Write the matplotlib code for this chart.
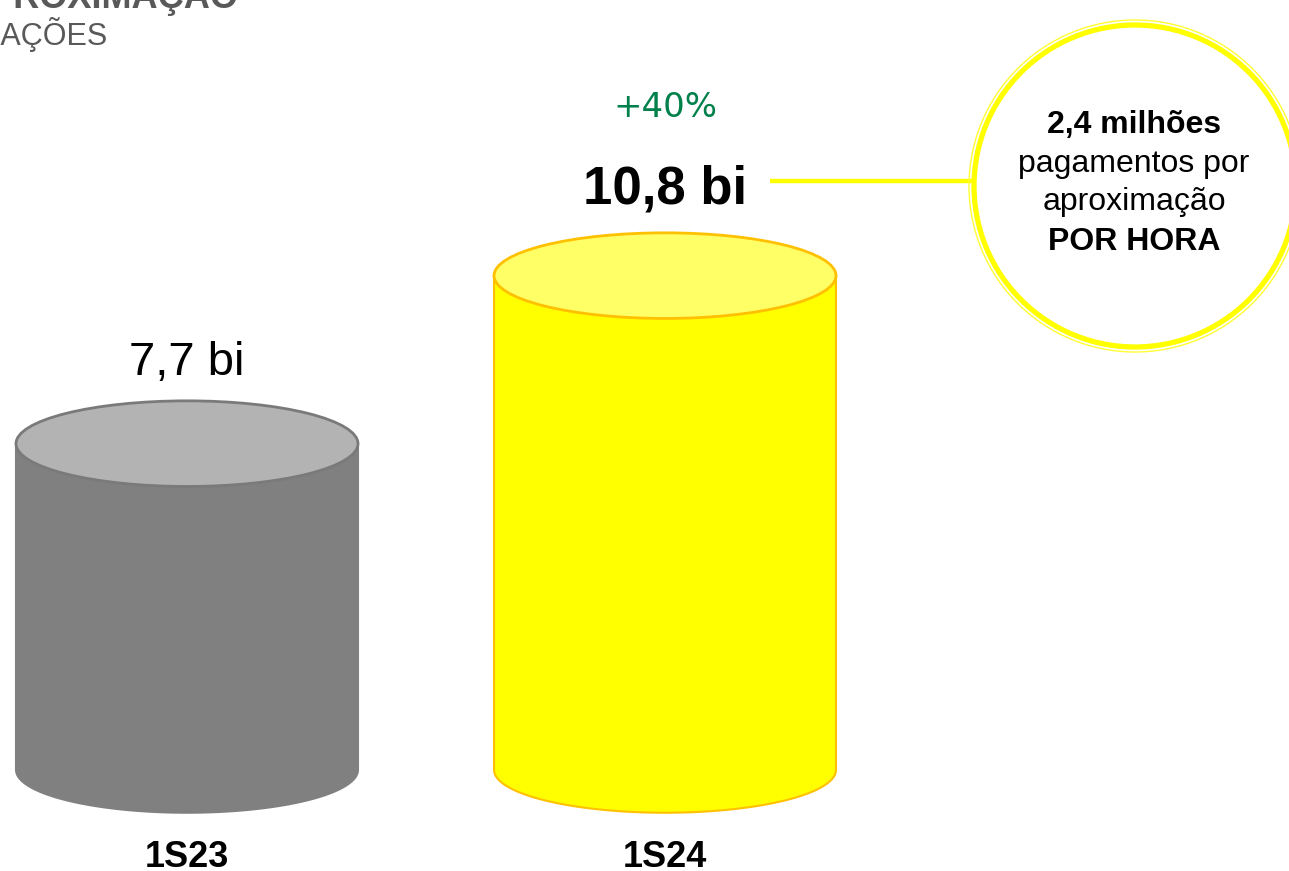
import matplotlib
matplotlib.use("Agg")
import matplotlib.pyplot as plt
from matplotlib.patches import Ellipse, Polygon, Circle
import numpy as np

# data
periods = ["1S23", "1S24"]
values = [7.7, 10.8]
value_labels = ["7,7 bi", "10,8 bi"]
growth_label = "+40%"
callout_lines = ["2,4 milhões", "pagamentos por", "aproximação", "POR HORA"]

# style
body_colors = ["#808080", "#ffff00"]
top_colors = ["#b3b3b3", "#ffff66"]
edge_colors = ["#7a7a7a", "#ffc000"]
x_centers = [187, 665]
half_w = 171
base = 1.68
ry = 0.79          # vertical semi axis of ellipses, in value units

plt.rcParams['font.family'] = ['Liberation Sans', 'DejaVu Sans']

fig = plt.figure(figsize=(12.89, 8.71), dpi=100)
ax = fig.add_axes([0, 0, 1, 1])
ax.set_xlim(0, 1289)
ax.set_ylim(-0.185, 15.886)
ax.axis('off')

t = np.linspace(np.pi, 2 * np.pi, 60)
for i, v in enumerate(values):
    xc = x_centers[i]
    # body: left side, bottom half ellipse, right side
    xs = [xc - half_w] + list(xc + half_w * np.cos(t)) + [xc + half_w]
    ys = [v] + list(base + ry * np.sin(t)) + [v]
    body_edge = body_colors[i] if i == 0 else edge_colors[i]
    ax.add_patch(Polygon(np.column_stack([xs, ys]), closed=True,
                         facecolor=body_colors[i], edgecolor=body_edge, lw=1.5, zorder=2))
    ax.add_patch(Ellipse((xc, v), 2 * half_w, 2 * ry, facecolor=top_colors[i],
                         edgecolor=edge_colors[i], lw=2, zorder=3))

# overlay in pixel coords for annotations
ov = fig.add_axes([0, 0, 1, 1])
ov.set_xlim(0, 1289)
ov.set_ylim(871, 0)
ov.axis('off')
ov.patch.set_alpha(0)

ov.text(187, 375, value_labels[0], fontsize=34, ha='center', va='baseline', color='black')
ov.text(665, 203, value_labels[1], fontsize=38, fontweight='bold', ha='center',
        va='baseline', color='black')
ov.text(665, 117, growth_label, fontsize=24.5, ha='center', va='baseline',
        color='#00804a', family=['DejaVu Sans'])

for xc, p in zip(x_centers, periods):
    ov.text(xc, 867, p, fontsize=26, fontweight='bold', ha='center', va='baseline',
            color='black')

# connector line and callout circle
ov.plot([770, 972], [181, 181], color='#ffff00', lw=3.2, solid_capstyle='butt', zorder=4)
ov.add_patch(Circle((1135, 186), 166, fill=False, edgecolor='#ffff33', lw=1.0, zorder=4))
ov.add_patch(Circle((1135, 186), 161, fill=False, edgecolor='#ffff00', lw=3.8, zorder=4))
baselines = [133, 172, 210, 250]
weights = ['bold', 'normal', 'normal', 'bold']
for line, yb, w in zip(callout_lines, baselines, weights):
    ov.text(1134, yb, line, fontsize=23, fontweight=w, ha='center', va='baseline', color='black')

# clipped header at top left
ov.text(238, 8, "PAGAMENTOS POR APROXIMAÇÃO", fontsize=26, fontweight='bold',
        ha='right', va='baseline', color='#595959')
ov.text(108, 45, "TRANSAÇÕES", fontsize=22, ha='right', va='baseline', color='#595959')

fig.savefig("out.png", dpi=100)
